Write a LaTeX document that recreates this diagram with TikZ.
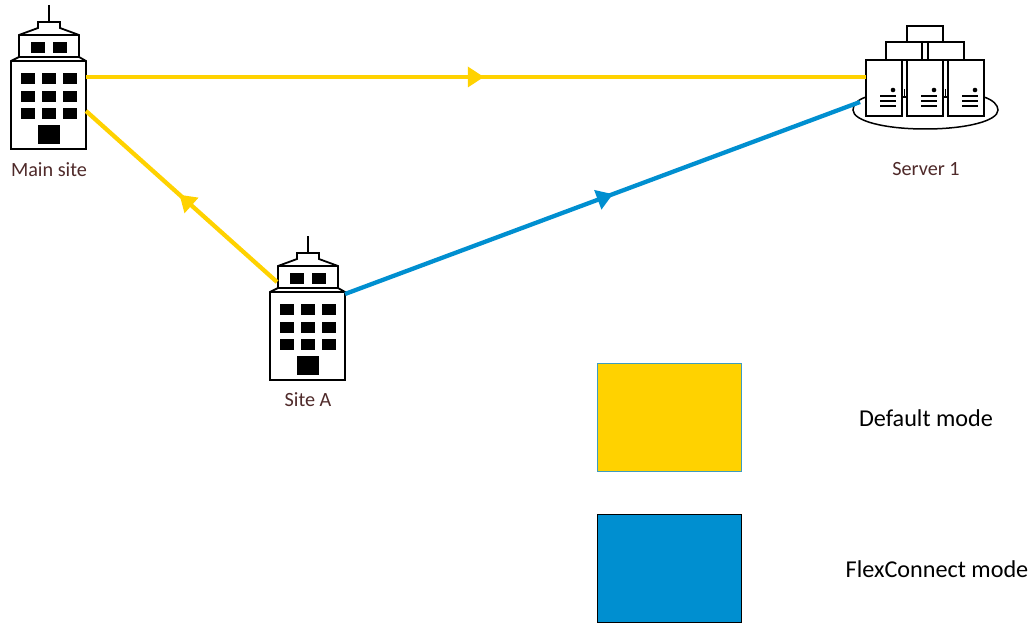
\documentclass[tikz,border=0pt]{standalone}
\usepackage{fontspec}
\setmainfont{Carlito}
\usetikzlibrary{arrows.meta,decorations.markings}
\definecolor{myyellow}{HTML}{FFD200}
\definecolor{myblue}{HTML}{008FD0}
\definecolor{labelbrown}{HTML}{4F2A2A}
\definecolor{legendedge}{HTML}{3E9CBF}
\tikzset{
  x=1pt,y=-1pt,
  wall/.style={draw=black,line width=1.8pt,fill=white,line join=miter},
  solid box/.style={fill=black},
  thin part/.style={draw=black,line width=1.5pt},
  site label/.style={text=labelbrown,font=\fontsize{20.2}{24}\selectfont,inner sep=0pt,anchor=center},
  legend label/.style={text=black,font=\fontsize{24.2}{29}\selectfont,inner sep=0pt,anchor=center},
  link/.style={line width=4.3pt,postaction={decorate},
    decoration={markings,mark=at position #1 with {\arrow[line width=0pt]{Triangle[length=16pt,width=21pt]}}}},
  yellow link/.style={link=#1,draw=myyellow,color=myyellow},
  blue link/.style={link=#1,draw=myblue,color=myblue},
  legend box/.style={minimum width=144pt,minimum height=108pt,inner sep=0pt},
  building/.pic={
    \draw[thin part] (49,5) -- (49,22);
    \draw[wall] (19,57) -- (19,35) -- (38,28) -- (38,22) -- (60,22) -- (60,28) -- (79,35) -- (79,57) -- cycle;
    \draw[thin part] (19,35) -- (79,35);
    \draw[wall] (11,149) -- (11,61) -- (19,57) -- (79,57) -- (86,61) -- (86,149) -- cycle;
    \draw[thin part] (11,61) -- (86,61);
    \fill[solid box] (31,42) rectangle (45,53);
    \fill[solid box] (53,42) rectangle (67,53);
    \foreach \py in {73,91,108}{
      \foreach \px in {21,42,63}{
        \fill[solid box] (\px,\py) rectangle ++(14,11);
      }
    }
    \fill[solid box] (38,125) rectangle (60,144);
    \coordinate (-east) at (86,77);
    \coordinate (-southeast) at (86,111);
    \coordinate (-northwest) at (18,51);
    \coordinate (-lowereast) at (86,63);
  },
  server unit/.pic={
    \draw[wall] (0,0) rectangle (36,56);
    \fill (27,30) circle (2.3pt);
    \foreach \py in {36,41,46}{
      \draw[line width=1.3pt] (14,\py) -- (30,\py);
    }
  },
}
\begin{document}
\begin{tikzpicture}
\useasboundingbox (0,0) rectangle (1036,623);
\fill[white] (0,0) rectangle (1036,623);
\pic (main) at (0,0) {building};
\pic (sitea) at (259,231) {building};
% dish under the three server units
\draw[thin part] (866,97) .. controls (857,100) and (853,105) .. (853,110)
  .. controls (853,121) and (885,129) .. (925,129)
  .. controls (966,129) and (998,121) .. (998,110)
  .. controls (998,105) and (993,100) .. (984,97);
\draw[thin part] (902,97) -- (907,97);
\draw[thin part] (943,97) -- (948,97);
\draw[line width=1.8pt] (904.5,89) -- (904.5,97);
\draw[line width=1.8pt] (945.5,89) -- (945.5,97);
\draw[wall] (907,26) rectangle (943,42);
\draw[wall] (886,42) rectangle (922,60);
\draw[wall] (928,42) rectangle (964,60);
\pic (s1) at (866,60) {server unit};
\pic (s2) at (907,60) {server unit};
\pic (s3) at (948,60) {server unit};
\coordinate (serverport) at (866,77);
\coordinate (serverblue) at (860,102);
\node[site label] (mainlabel) at (49,169.5) {Main site};
\node[site label] (servlabel) at (926,169.5) {Server 1};
\node[site label] (sitelabel) at (308,399.5) {Site A};
\draw[yellow link=0.51] (main-east) -- (serverport);
\draw[yellow link=0.51] (sitea-northwest) -- (main-southeast);
\draw[blue link=0.52] (sitea-lowereast) -- (serverblue);
\node[legend box,draw=legendedge,line width=0.8pt,fill=myyellow] (defaultbox) at (669,417.5) {};
\node[legend box,draw=black,line width=1pt,fill=myblue] (flexbox) at (669,568.5) {};
\node[legend label] (defaultlabel) at (926,418) {Default mode};
\node[legend label] (flexlabel) at (937,569) {FlexConnect mode};
\end{tikzpicture}
\end{document}
